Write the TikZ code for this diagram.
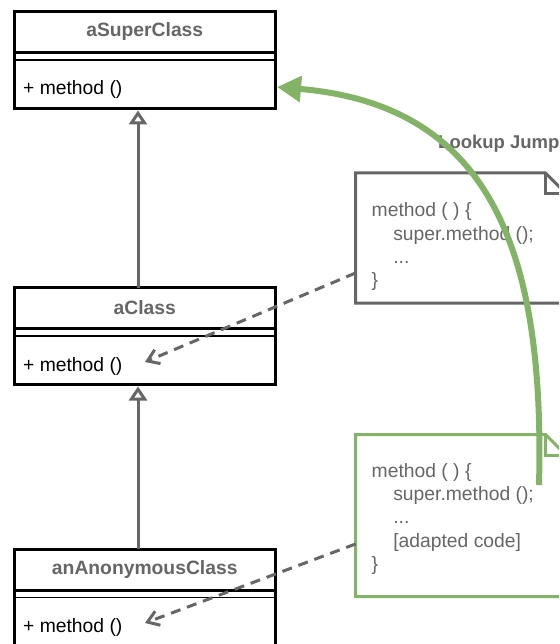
\documentclass[tikz,border=0pt]{standalone}
\usepackage{fontspec}
\setmainfont{Liberation Sans}
\usetikzlibrary{arrows.meta}
\definecolor{lineGray}{HTML}{666666}
\definecolor{lineGreen}{HTML}{82B366}
\tikzstyle{classHead}=[shape = rectangle, draw, line width = 3pt, outer sep = 0pt, inner sep = 0pt, minimum width = 261.5pt, minimum height = 41pt, text = lineGray, font = \fontsize{19.3}{23}\selectfont\bfseries]
\tikzstyle{classBody}=[shape = rectangle, draw, line width = 3pt, outer sep = 0pt, inner sep = 0pt, minimum width = 261.5pt, minimum height = 56pt]
\tikzstyle{methodText}=[anchor = west, inner sep = 0pt, font = \fontsize{19.3}{23}\selectfont]
\tikzstyle{noteText}=[anchor = west, inner sep = 0pt, align = left, text = lineGray, font = \fontsize{19.3}{23.3}\selectfont]

\begin{document}
\begin{tikzpicture}[x = 1pt, y = -1pt]
\tikzstyle{noteShape}=[shape = rectangle, outer sep = 0pt, inner sep = 0pt, minimum width = 211pt]
\tikzstyle{noteGray}=[draw = lineGray, line width = 3pt]
\tikzstyle{noteGreen}=[draw = lineGreen, line width = 3pt]
\tikzstyle{extendsEdge}=[draw = lineGray, line width = 3pt, -{Triangle[length = 14pt, width = 18pt, fill = white]}]
\tikzstyle{usesEdge}=[draw = lineGray, line width = 3pt, dash pattern = on 10pt off 7pt, -{Straight Barb[length = 11pt, width = 15pt]}]
\tikzstyle{jumpEdge}=[draw = lineGreen, line width = 6pt, -{Triangle[length = 24pt, width = 25pt]}]
\useasboundingbox[fill = white] (0,0) rectangle (559,644);
\clip (0,0) rectangle (559,644);
\node[noteShape, minimum height = 130pt] (n0) at (461, 238) {};
\node[noteShape, minimum height = 162pt] (n1) at (461, 515.5) {};
\draw[noteGray] (n0.north west) -- ([xshift = -21pt]n0.north east) -- ([yshift = -21pt]n0.north east) -- (n0.south east) -- (n0.south west) -- cycle;
\draw[noteGray] ([xshift = -21pt]n0.north east) -- ([xshift = -21pt, yshift = -21pt]n0.north east) -- ([yshift = -21pt]n0.north east);
\draw[noteGreen] (n1.north west) -- ([xshift = -21pt]n1.north east) -- ([yshift = -21pt]n1.north east) -- (n1.south east) -- (n1.south west) -- cycle;
\draw[noteGreen] ([xshift = -21pt]n1.north east) -- ([xshift = -21pt, yshift = -21pt]n1.north east) -- ([yshift = -21pt]n1.north east);
\node[noteText] (t0) at (371.5, 246.7) {method ( ) \{\\\hspace*{21.6pt}super.method ();\\\hspace*{21.6pt}...\\\}};
\node[noteText] (t1) at (371.5, 519) {method ( ) \{\\\hspace*{21.6pt}super.method ();\\\hspace*{21.6pt}...\\\hspace*{21.6pt}[adapted code]\\\}};
\node[anchor = base west, inner sep = 0pt, text = lineGray, font = \fontsize{18.5}{21}\selectfont\bfseries] (l0) at (438, 148.3) {Lookup Jump};
\node[classHead] (c0) at (144.75, 32) {aSuperClass};
\node[classBody] (b0) at (144.75, 80.5) {};
\node[classHead] (c1) at (144.75, 308) {aClass};
\node[classBody] (b1) at (144.75, 356.5) {};
\node[classHead] (c2) at (144.75, 569.5) {anAnonymousClass};
\node[classBody] (b2) at (144.75, 618) {};
\draw[line width = 1.5pt] ([yshift = -7.5pt]b0.north west) -- ([yshift = -7.5pt]b0.north east);
\draw[line width = 1.5pt] ([yshift = -7.5pt]b1.north west) -- ([yshift = -7.5pt]b1.north east);
\draw[line width = 1.5pt] ([yshift = -7.5pt]b2.north west) -- ([yshift = -7.5pt]b2.north east);
\node[methodText] (m0) at (23, 90) {+ method ()};
\node[methodText] (m1) at (23, 367) {+ method ()};
\node[methodText] (m2) at (23, 627) {+ method ()};
\coordinate (d0) at (145, 362);
\coordinate (d1) at (145, 623);
\coordinate (g0) at (539, 485);
\draw[extendsEdge] ([xshift = -6.75pt]c1.north) -- ([xshift = -6.75pt, yshift = -2pt]b0.south);
\draw[extendsEdge] ([xshift = -6.75pt]c2.north) -- ([xshift = -6.75pt, yshift = -2pt]b1.south);
\draw[usesEdge] ([yshift = -35pt]n0.west) -- (d0);
\draw[usesEdge] ([yshift = -28.5pt]n1.west) -- (d1);
\draw[jumpEdge] (g0) .. controls (545, 250) and (490, 105) .. ([xshift = 1.5pt, yshift = -6.5pt]b0.east);
\end{tikzpicture}
\end{document}
